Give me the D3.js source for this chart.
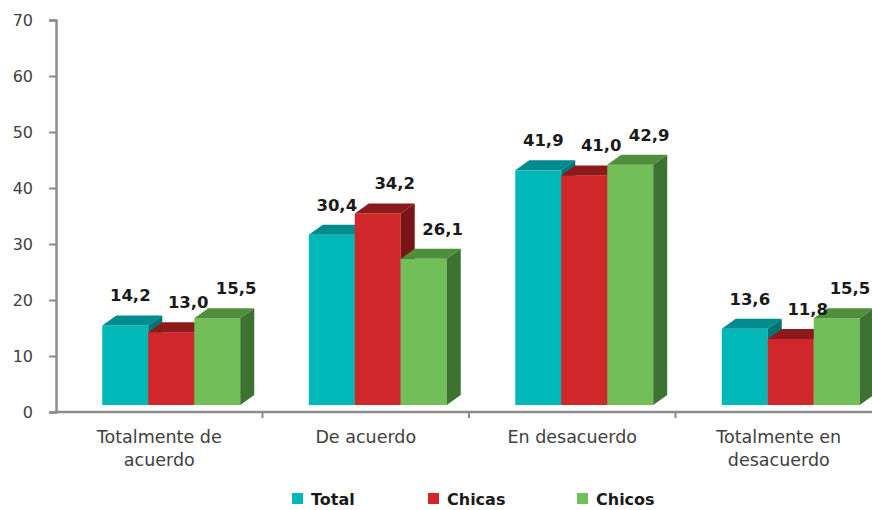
<!DOCTYPE html>
<html><head><meta charset="utf-8">
<script src="https://cdn.jsdelivr.net/npm/d3@7"></script>
<style>
html,body{margin:0;padding:0;background:#fff;}
svg{display:block;}
</style></head>
<body>
<svg id="chart" width="872" height="510"></svg>
<script>
const categories = [["Totalmente de","acuerdo"],["De acuerdo"],["En desacuerdo"],["Totalmente en","desacuerdo"]];
const seriesNames = ["Total","Chicas","Chicos"];
const totalValues  = [14.2, 30.4, 41.9, 13.6];
const chicasValues = [13.0, 34.2, 41.0, 11.8];
const chicosValues = [15.5, 26.1, 42.9, 15.5];
const yTicks = [0,10,20,30,40,50,60,70];

const seriesValues = [totalValues, chicasValues, chicosValues];
const colors = [
  {front:"#00B8B8", top:"#008B8E", side:"#007475"},
  {front:"#D0282A", top:"#8C1A1B", side:"#7A1516"},
  {front:"#72BE59", top:"#4F8F3C", side:"#3E7232"}
];

const svg = d3.select("#chart");
const left = 56, axisY = 412, topY = 20;
const step = 206.5;
const catKeys = categories.map((c,i)=>i);
const x0 = d3.scaleBand().domain(catKeys).range([left, left + step*4]).paddingInner(0.332).paddingOuter(0.166);
const x1 = d3.scaleBand().domain([0,1,2]).range([0, x0.bandwidth()]).padding(0);
const y = d3.scaleLinear().domain([0,70]).range([axisY, topY]);

const shiftX = 12, shiftY = -7;   // front face offset in projection
const dX = 14, dY = -10;          // depth offset

// y axis
const yAxis = d3.axisLeft(y).tickValues(yTicks).tickSize(7).tickPadding(16).tickFormat(d3.format("d"));
const gy = svg.append("g").attr("transform",`translate(${left},0)`).call(yAxis);
gy.select(".domain").attr("stroke","#8C8C8C").attr("stroke-width",2.5);
gy.selectAll(".tick line").attr("stroke","#8C8C8C").attr("stroke-width",2);
gy.selectAll(".tick text").attr("fill","#404040").attr("font-family","'DejaVu Sans'").attr("font-size",16).attr("dy","0.35em");

// x axis line and category ticks
svg.append("line").attr("x1",left).attr("x2",872).attr("y1",axisY).attr("y2",axisY)
  .attr("stroke","#8C8C8C").attr("stroke-width",2.5);
const boundaries = d3.range(1,4).map(i => left + x0.step()*i);
svg.selectAll(".ctick").data(boundaries).enter().append("line")
  .attr("x1",d=>d).attr("x2",d=>d).attr("y1",axisY).attr("y2",axisY+6)
  .attr("stroke","#8C8C8C").attr("stroke-width",2);

// bars
const bars = svg.append("g");
catKeys.forEach(ci => {
  seriesValues.forEach((vals, si) => {
    const v = vals[ci];
    const xl = x0(ci) + x1(si) + shiftX;
    const xr = xl + x1.bandwidth();
    const yb = y(0) + shiftY;
    const yt = y(v) + shiftY;
    const c = colors[si];
    bars.append("rect").attr("x",xl).attr("y",yt).attr("width",xr-xl).attr("height",yb-yt).attr("fill",c.front);
    bars.append("path").attr("d",`M${xl},${yt}L${xl+dX},${yt+dY}L${xr+dX},${yt+dY}L${xr},${yt}Z`).attr("fill",c.top);
    bars.append("path").attr("d",`M${xr},${yt}L${xr+dX},${yt+dY}L${xr+dX},${yb+dY}L${xr},${yb}Z`).attr("fill",c.side);
  });
});

// value labels
const labelShift = [-2, 10, 12];
const fmt = v => d3.format(".1f")(v).replace(".", ",");
const lbl = svg.append("g");
catKeys.forEach(ci => {
  seriesValues.forEach((vals, si) => {
    const v = vals[ci];
    let cx = x0(ci) + x1(si) + shiftX + x1.bandwidth()/2 + dX/2 + labelShift[si];
    cx = Math.min(cx, 850);
    const by = y(v) + shiftY + dY - 14;
    lbl.append("text").attr("x",cx).attr("y",by).attr("text-anchor","middle")
      .attr("font-family","'DejaVu Sans'").attr("font-weight","bold").attr("font-size",16.5)
      .attr("fill","#1a1a1a").text(fmt(v));
  });
});

// category labels
const cl = svg.append("g");
catKeys.forEach(ci => {
  const cx = left + x0.step()*(ci+0.5);
  const t = cl.append("text").attr("x",cx).attr("y",443).attr("text-anchor","middle")
    .attr("font-family","'DejaVu Sans'").attr("font-size",17.5).attr("fill","#404040");
  categories[ci].forEach((line, li) => {
    t.append("tspan").attr("x",cx).attr("dy", li===0 ? 0 : 23).text(line);
  });
});

// legend
const legendX = [292, 428, 577];
const lg = svg.append("g");
seriesNames.forEach((n, i) => {
  lg.append("rect").attr("x",legendX[i]).attr("y",493).attr("width",11).attr("height",11).attr("fill",colors[i].front);
  lg.append("text").attr("x",legendX[i]+19).attr("y",505).attr("font-family","'DejaVu Sans'")
    .attr("font-weight","bold").attr("font-size",16).attr("fill","#1a1a1a").text(n);
});
</script>
</body></html>
